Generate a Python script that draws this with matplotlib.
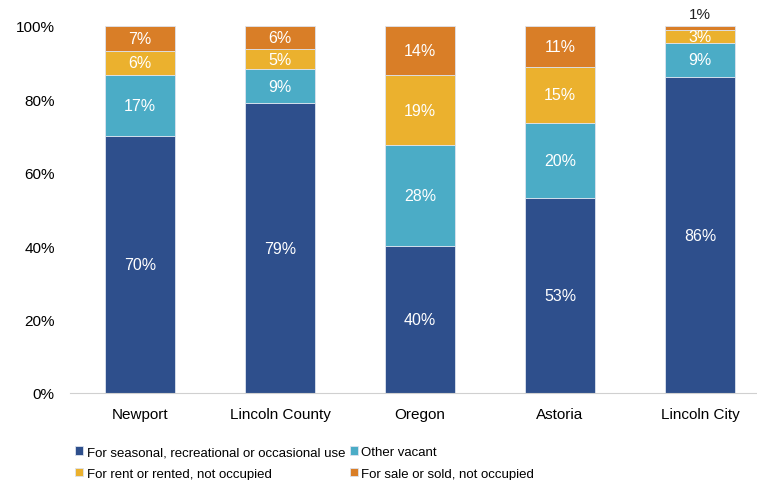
import numpy as np
import matplotlib.pyplot as plt

# ── Data (share of vacant units, %) ───────────────────────
PLACES   = ["Newport", "Lincoln County", "Oregon", "Astoria", "Lincoln City"]
SEASONAL = [70.0, 78.9, 40.0, 53.1, 86.0]
OTHER    = [16.7, 9.3, 27.5, 20.4, 9.4]
RENT     = [6.4, 5.4, 19.0, 15.3, 3.3]
SALE     = [6.9, 6.4, 13.5, 11.2, 1.3]

SERIES = ["For seasonal, recreational or occasional use", "Other vacant",
          "For rent or rented, not occupied", "For sale or sold, not occupied"]
COLORS = ["#2E4F8C", "#4BACC6", "#EBB12E", "#D97E27"]

plt.rcParams['font.family'] = ['Liberation Sans', 'DejaVu Sans']

W, H = 757, 481
fig = plt.figure(figsize=(W / 100, H / 100), dpi=100)
ax = fig.add_axes([70 / W, 87 / H, 700 / W, 367.3 / H])

x = np.arange(len(PLACES))
bottom = np.zeros(len(PLACES))
handles = []
for vals, color, label in zip([SEASONAL, OTHER, RENT, SALE], COLORS, SERIES):
    v = np.array(vals) / 100
    bars = ax.bar(x, v, 0.5, bottom=bottom, color=color, label=label,
                  edgecolor='#DDE3EE', linewidth=0.6)
    handles.append(bars)
    for i, (b, h) in enumerate(zip(bottom, v)):
        txt = f"{round(h * 100):.0f}%"
        if h < 0.02:
            ax.text(x[i], b + h + 0.012, txt, ha='center', va='bottom',
                    fontsize=11, color='#222222')
        else:
            ax.text(x[i], b + h / 2, txt, ha='center', va='center',
                    fontsize=11.5, color='white')
    bottom += v

ax.set_xlim(-0.5, 4.5)
ax.set_ylim(0, 1)
ax.set_xticks(x)
ax.set_xticklabels(PLACES, fontsize=11)
ticks = np.arange(0, 1.01, 0.2)
ax.set_yticks(ticks)
ax.set_yticklabels([f"{int(round(t * 100))}%" for t in ticks], fontsize=11)
ax.tick_params(length=0, pad=10)
ax.tick_params(axis='y', pad=11)
for s in ['top', 'right', 'left']:
    ax.spines[s].set_visible(False)
ax.spines['bottom'].set_color('#D0D0D0')

# legend fills column-wise: reorder so rows read seasonal/other, rent/sale
order = [0, 2, 1, 3]
ax.legend([handles[i] for i in order], [SERIES[i] for i in order],
          loc='upper left', bbox_to_anchor=(0.0, -0.13), ncol=2, frameon=False,
          fontsize=9.5, handlelength=0.6, handleheight=0.6, handletextpad=0.3,
          columnspacing=0.3, labelspacing=0.72, borderaxespad=0)

fig.savefig("out.png", dpi=100, facecolor='white')
